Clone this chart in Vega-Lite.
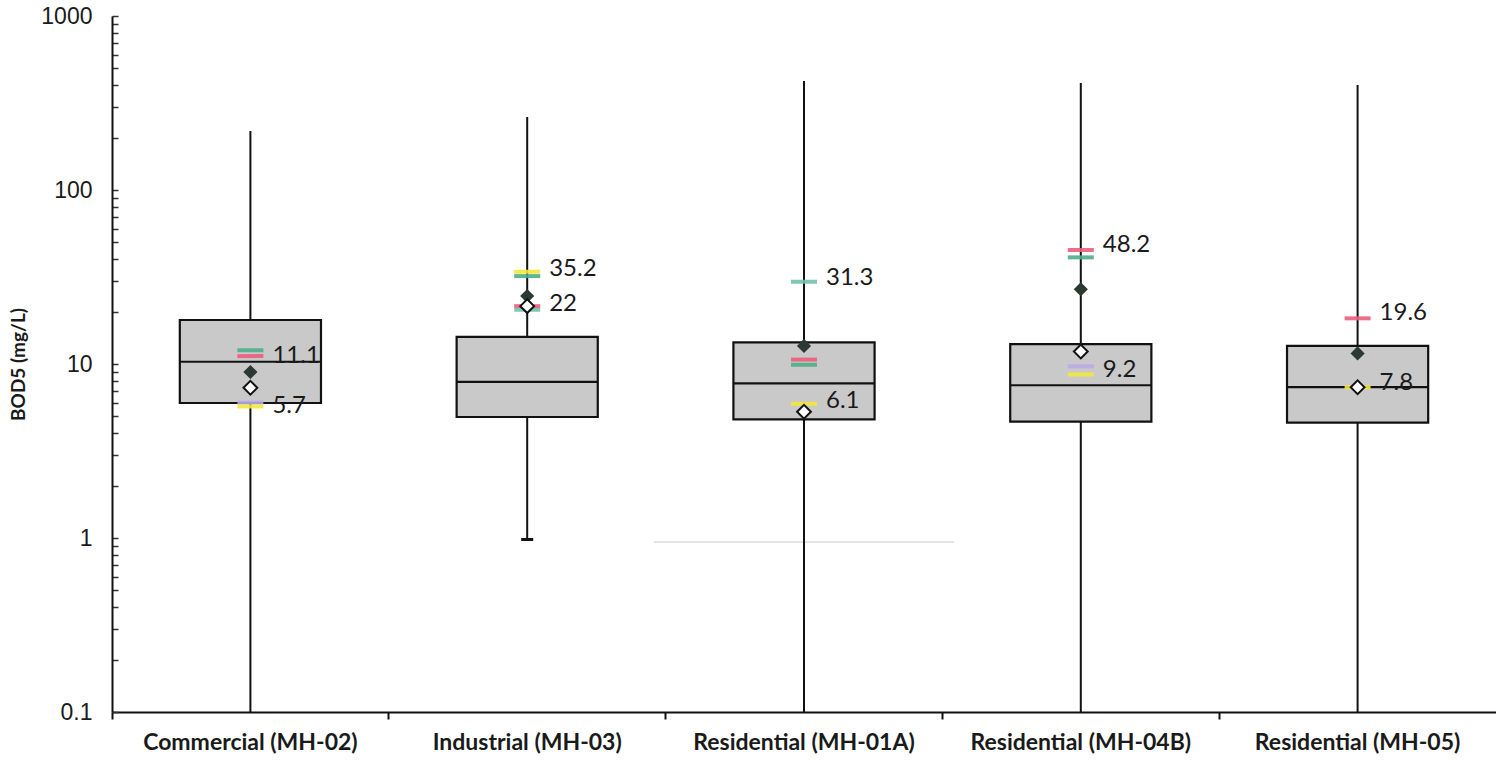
{
  "$schema": "https://vega.github.io/schema/vega-lite/v6.json",
  "width": 1384,
  "height": 696,
  "autosize": {"type": "none"},
  "padding": {"left": 112, "top": 16, "right": 0, "bottom": 55},
  "background": "white",
  "config": {"view": {"stroke": null}},
  "datasets": {
    "boxes": [
      {"cat": "Commercial (MH-02)", "lower": 0.1, "q1": 5.97, "median": 10.3, "q3": 17.9, "upper": 218},
      {"cat": "Industrial (MH-03)", "lower": 1.0, "q1": 4.96, "median": 7.9, "q3": 14.3, "upper": 263},
      {"cat": "Residential (MH-01A)", "lower": 0.1, "q1": 4.81, "median": 7.74, "q3": 13.3, "upper": 423},
      {"cat": "Residential (MH-04B)", "lower": 0.1, "q1": 4.66, "median": 7.55, "q3": 13.0, "upper": 412},
      {"cat": "Residential (MH-05)", "lower": 0.1, "q1": 4.6, "median": 7.37, "q3": 12.7, "upper": 401}
    ],
    "dashes": [
      {"cat": "Commercial (MH-02)", "kind": "green", "value": 12.0},
      {"cat": "Commercial (MH-02)", "kind": "red", "value": 11.1},
      {"cat": "Commercial (MH-02)", "kind": "lavender", "value": 6.0},
      {"cat": "Commercial (MH-02)", "kind": "yellow", "value": 5.7},
      {"cat": "Industrial (MH-03)", "kind": "yellow", "value": 33.9},
      {"cat": "Industrial (MH-03)", "kind": "green", "value": 32.0},
      {"cat": "Industrial (MH-03)", "kind": "teal", "value": 20.5},
      {"cat": "Industrial (MH-03)", "kind": "red", "value": 21.5},
      {"cat": "Residential (MH-01A)", "kind": "teal", "value": 29.7},
      {"cat": "Residential (MH-01A)", "kind": "red", "value": 10.6},
      {"cat": "Residential (MH-01A)", "kind": "green", "value": 9.9},
      {"cat": "Residential (MH-01A)", "kind": "yellow", "value": 5.9},
      {"cat": "Residential (MH-04B)", "kind": "red", "value": 45.2},
      {"cat": "Residential (MH-04B)", "kind": "green", "value": 41.0},
      {"cat": "Residential (MH-04B)", "kind": "lavender", "value": 9.7},
      {"cat": "Residential (MH-04B)", "kind": "yellow", "value": 8.7},
      {"cat": "Residential (MH-05)", "kind": "red", "value": 18.3},
      {"cat": "Residential (MH-05)", "kind": "yellow", "value": 7.35}
    ],
    "means": [
      {"cat": "Commercial (MH-02)", "value": 9.0},
      {"cat": "Industrial (MH-03)", "value": 24.6},
      {"cat": "Residential (MH-01A)", "value": 12.7},
      {"cat": "Residential (MH-04B)", "value": 26.9},
      {"cat": "Residential (MH-05)", "value": 11.5}
    ],
    "opens": [
      {"cat": "Commercial (MH-02)", "value": 7.3},
      {"cat": "Industrial (MH-03)", "value": 21.5},
      {"cat": "Residential (MH-01A)", "value": 5.32},
      {"cat": "Residential (MH-04B)", "value": 11.8},
      {"cat": "Residential (MH-05)", "value": 7.35}
    ],
    "labels": [
      {"cat": "Commercial (MH-02)", "value": 11.1, "text": "11.1"},
      {"cat": "Commercial (MH-02)", "value": 5.7, "text": "5.7"},
      {"cat": "Industrial (MH-03)", "value": 35.2, "text": "35.2"},
      {"cat": "Industrial (MH-03)", "value": 22, "text": "22"},
      {"cat": "Residential (MH-01A)", "value": 31.3, "text": "31.3"},
      {"cat": "Residential (MH-01A)", "value": 6.1, "text": "6.1"},
      {"cat": "Residential (MH-04B)", "value": 48.2, "text": "48.2"},
      {"cat": "Residential (MH-04B)", "value": 9.2, "text": "9.2"},
      {"cat": "Residential (MH-05)", "value": 19.6, "text": "19.6"},
      {"cat": "Residential (MH-05)", "value": 7.8, "text": "7.8"}
    ],
    "caps": [
      {"cat": "Industrial (MH-03)", "value": 0.98}
    ],
    "faint": [
      {"cat": "Residential (MH-01A)", "value": 0.95}
    ]
  },
  "encoding": {
    "x": {
      "field": "cat",
      "type": "nominal",
      "sort": null,
      "scale": {
        "domain": ["Commercial (MH-02)", "Industrial (MH-03)", "Residential (MH-01A)", "Residential (MH-04B)", "Residential (MH-05)"],
        "paddingInner": 0,
        "paddingOuter": 0
      },
      "axis": {
        "title": null,
        "labelAngle": 0,
        "labelLimit": 0,
        "labelFont": "Lato",
        "labelFontWeight": "bold",
        "labelFontSize": 23,
        "labelColor": "#1a1a1a",
        "labelPadding": 12,
        "domainColor": "#111",
        "domainWidth": 2,
        "tickColor": "#111",
        "tickWidth": 2,
        "tickSize": 7,
        "bandPosition": 0
      }
    }
  },
  "layer": [
    {
      "data": {"name": "faint"},
      "mark": {"type": "tick", "color": "#c8c8c8", "size": 300, "thickness": 1, "strokeDash": [2, 2], "opacity": 1},
      "encoding": {
        "y": {
          "field": "value",
          "type": "quantitative",
          "scale": {"type": "log", "domain": [0.1, 1000], "nice": false, "clamp": true},
          "axis": {
            "title": "BOD5 (mg/L)",
            "titleFont": "Lato",
            "titleFontWeight": "bold",
            "titleFontSize": 19,
            "titleColor": "#1a1a1a",
            "titlePadding": 12,
            "grid": false,
            "values": [0.1, 0.2, 0.3, 0.4, 0.5, 0.6, 0.7, 0.8, 0.9, 1, 2, 3, 4, 5, 6, 7, 8, 9, 10, 20, 30, 40, 50, 60, 70, 80, 90, 100, 200, 300, 400, 500, 600, 700, 800, 900, 1000],
            "format": "~g",
            "labelExpr": "indexof([0.1, 1, 10, 100, 1000], datum.value) >= 0 ? datum.label : ''",
            "labelOverlap": false,
            "labelFont": "Liberation Sans",
            "labelFontSize": 23,
            "labelColor": "#1a1a1a",
            "labelPadding": 26,
            "tickSize": -6,
            "tickColor": "#333",
            "tickWidth": 1.5,
            "domainColor": "#111",
            "domainWidth": 2
          }
        }
      }
    },
    {
      "data": {"name": "boxes"},
      "mark": {"type": "rule", "color": "#111", "strokeWidth": 2},
      "encoding": {
        "y": {"field": "lower", "type": "quantitative"},
        "y2": {"field": "upper"}
      }
    },
    {
      "data": {"name": "boxes"},
      "mark": {"type": "bar", "width": {"band": 0.51}, "fill": "#c9c9c9", "stroke": "#111", "strokeWidth": 2.2, "opacity": 1},
      "encoding": {
        "y": {"field": "q1", "type": "quantitative"},
        "y2": {"field": "q3"}
      }
    },
    {
      "data": {"name": "boxes"},
      "mark": {"type": "tick", "color": "#111", "size": 141, "thickness": 2.2, "opacity": 1},
      "encoding": {
        "y": {"field": "median", "type": "quantitative"}
      }
    },
    {
      "data": {"name": "caps"},
      "mark": {"type": "tick", "color": "#111", "size": 12, "thickness": 3, "opacity": 1},
      "encoding": {
        "y": {"field": "value", "type": "quantitative"}
      }
    },
    {
      "data": {"name": "dashes"},
      "mark": {"type": "tick", "size": 26, "thickness": 4, "opacity": 0.9},
      "encoding": {
        "y": {"field": "value", "type": "quantitative"},
        "color": {
          "field": "kind",
          "type": "nominal",
          "scale": {
            "domain": ["red", "green", "teal", "yellow", "lavender"],
            "range": ["#ea5f7c", "#4fae88", "#70c2ae", "#f2e83a", "#b9abe8"]
          },
          "legend": null
        }
      }
    },
    {
      "data": {"name": "means"},
      "mark": {"type": "point", "shape": "diamond", "filled": true, "color": "#2a3a33", "size": 200, "opacity": 1},
      "encoding": {
        "y": {"field": "value", "type": "quantitative"}
      }
    },
    {
      "data": {"name": "opens"},
      "mark": {"type": "point", "shape": "diamond", "filled": true, "fill": "white", "stroke": "#111", "strokeWidth": 2, "size": 190, "opacity": 1},
      "encoding": {
        "y": {"field": "value", "type": "quantitative"}
      }
    },
    {
      "data": {"name": "labels"},
      "mark": {"type": "text", "align": "left", "baseline": "middle", "dx": 22, "font": "Lato", "fontSize": 24, "color": "#1a1a1a"},
      "encoding": {
        "y": {"field": "value", "type": "quantitative"},
        "text": {"field": "text"}
      }
    },
    {
      "mark": {"type": "rule", "color": "#111", "strokeWidth": 2},
      "encoding": {
        "y": {"datum": 1000},
        "x": {"value": 0},
        "x2": {"value": 1384}
      }
    }
  ]
}
